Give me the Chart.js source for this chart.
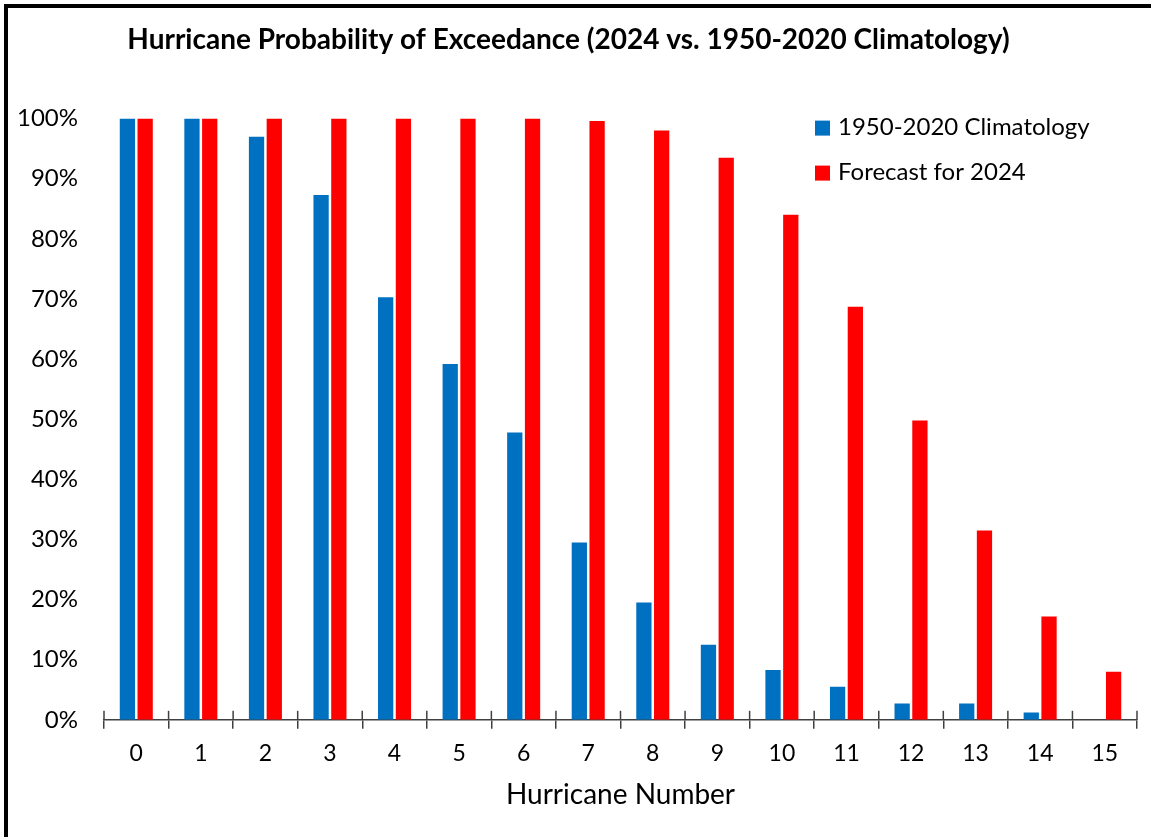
<!DOCTYPE html>
<html>
<head>
<meta charset="utf-8">
<script src="https://cdn.jsdelivr.net/npm/chart.js@4.4.1/dist/chart.umd.min.js"></script>
<style>
  body { margin: 0; background: #fff; }
  #wrap { position: relative; width: 1151px; height: 837px; }
  #frame { position: absolute; left: 4px; top: 4px; width: 1200px; height: 900px;
           border-left: 4px solid #000; border-top: 4px solid #000; pointer-events: none; }
</style>
</head>
<body>
<div id="wrap">
  <canvas id="chart1" width="1151" height="837"></canvas>
  <div id="frame"></div>
</div>
<script>
const hurricaneNumbers = ['0', '1', '2', '3', '4', '5', '6', '7', '8', '9', '10', '11', '12', '13', '14', '15'];
const climatology = [100, 100, 97, 87.3, 70.3, 59.2, 47.8, 29.5, 19.5, 12.5, 8.3, 5.5, 2.7, 2.7, 1.2, 0];
const forecast2024 = [100, 100, 100, 100, 100, 100, 100, 99.6, 98, 93.5, 84, 68.7, 49.8, 31.5, 17.2, 8];
const seriesNames = ['1950-2020 Climatology', 'Forecast for 2024'];

const FONT = 'Lato, "DejaVu Sans", sans-serif';

// tick marks that cross the x axis line (upper half)
const crossTicks = {
  id: 'crossTicks',
  afterDraw(chart) {
    const x = chart.scales.x;
    const c = chart.ctx;
    const half = (x.getPixelForValue(1) - x.getPixelForValue(0)) / 2;
    c.save();
    c.strokeStyle = '#404040';
    c.lineWidth = 1.5;
    for (let i = 0; i <= hurricaneNumbers.length; i++) {
      const px = x.getPixelForValue(i) - half;
      c.beginPath();
      c.moveTo(px, x.top - 9);
      c.lineTo(px, x.top);
      c.stroke();
    }
    c.restore();
  }
};

// legend drawn inside the plot area, top right
const innerLegend = {
  id: 'innerLegend',
  afterDraw(chart) {
    const a = chart.chartArea;
    const c = chart.ctx;
    c.save();
    c.font = '24px ' + FONT;
    c.textBaseline = 'middle';
    chart.data.datasets.forEach((ds, i) => {
      const y = a.top + 9 + i * 45;
      c.fillStyle = ds.backgroundColor;
      c.fillRect(a.right - 322, y - 7, 15, 15);
      c.fillStyle = '#000';
      c.fillText(ds.label, a.right - 299, y);
    });
    c.restore();
  }
};

const ctx = document.getElementById('chart1').getContext('2d');
const myChart = new Chart(ctx, {
  type: 'bar',
  data: {
    labels: hurricaneNumbers,
    datasets: [
      {
        label: seriesNames[0],
        data: climatology,
        backgroundColor: '#0070C0',
        categoryPercentage: 0.55,
        barPercentage: 0.86,
      },
      {
        label: seriesNames[1],
        data: forecast2024,
        backgroundColor: '#FF0000',
        categoryPercentage: 0.55,
        barPercentage: 0.86,
      },
    ],
  },
  options: {
    responsive: false,
    animation: false,
    layout: { padding: { left: 0, right: 14, top: 0, bottom: 25 } },
    plugins: {
      legend: { display: false },
      tooltip: { enabled: false },
      title: {
        display: true,
        text: 'Hurricane Probability of Exceedance (2024 vs. 1950-2020 Climatology)',
        color: '#000',
        font: { family: FONT, size: 28, weight: 'bold' },
        padding: { top: 23, bottom: 62 },
      },
    },
    scales: {
      x: {
        grid: { display: true, offset: true, drawOnChartArea: false, drawTicks: true, tickLength: 9, color: '#404040', lineWidth: 1.5 },
        border: { display: true, color: '#404040', width: 1.5 },
        ticks: { color: '#000', font: { family: FONT, size: 23 }, padding: 11 },
        title: { display: true, text: 'Hurricane Number', color: '#000', font: { family: FONT, size: 28 }, padding: { top: 0, bottom: 0 } },
      },
      y: {
        min: 0,
        max: 100,
        grid: { display: false, drawTicks: false },
        border: { display: false },
        ticks: {
          stepSize: 10,
          color: '#000',
          font: { family: FONT, size: 24 },
          padding: 26,
          callback: (v) => v + '%',
        },
        afterFit(scale) { scale.width = 104; },
      },
    },
  },
  plugins: [crossTicks, innerLegend],
});
</script>
</body>
</html>
